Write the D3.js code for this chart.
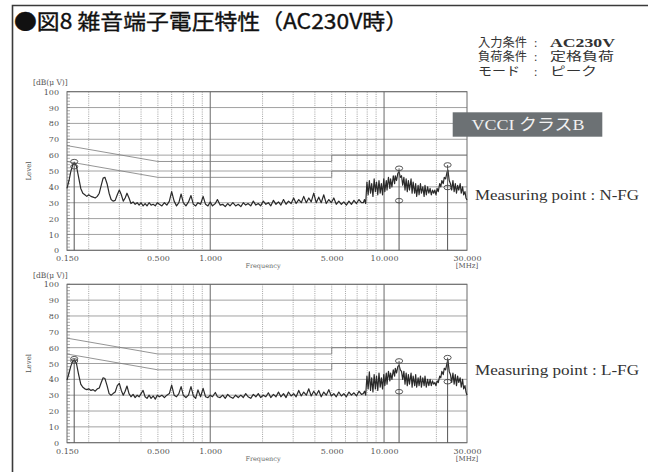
<!DOCTYPE html>
<html><head><meta charset="utf-8">
<script src="https://cdn.jsdelivr.net/npm/d3@7"></script>
<style>body{margin:0;background:#fff}svg{display:block}</style>
</head><body>
<svg id="c" width="648" height="472"></svg>
<script>
// Sweep frequencies [MHz], shared by both measuring points
const freqMHz = [
  0.150,0.154,0.158,0.162,0.166,0.170,0.175,0.180,0.185,0.190,0.195,0.200,0.206,0.212,0.218,0.224,0.230,0.236,0.242,0.248,
  0.255,0.262,0.269,0.276,0.284,0.292,0.300,0.308,0.316,0.324,0.332,0.341,0.350,0.360,0.370,0.380,0.390,0.400,0.411,0.422,
  0.433,0.445,0.457,0.470,0.483,0.496,
  0.510,0.527,0.545,0.563,0.582,0.600,0.620,0.640,0.660,0.680,0.700,0.725,0.750,0.775,0.800,0.825,0.850,0.880,0.910,0.940,
  0.970,1.00,1.03,1.07,1.10,1.14,1.18,1.22,1.26,1.30,1.35,1.40,1.45,1.50,1.55,1.60,1.65,1.71,1.77,1.83,
  1.89,1.95,2.02,2.09,2.16,2.23,2.31,2.39,2.47,2.55,2.64,2.73,2.82,2.92,3.02,3.12,3.23,3.34,3.45,3.57,
  3.69,3.81,3.94,4.07,4.21,4.35,4.50,4.65,4.81,4.97,5.14,5.31,5.49,5.68,5.87,6.07,6.28,6.49,6.71,6.94,
  7.17,7.41,
  7.60,7.72,7.84,7.97,8.10,8.23,8.36,8.49,8.63,8.77,8.91,9.05,9.20,9.35,9.50,9.65,9.80,9.96,10.1,10.3,
  10.4,10.6,10.8,10.9,11.1,11.3,11.5,11.6,11.8,12.0,12.2,12.4,12.6,12.8,13.0,13.2,13.4,13.6,13.8,14.0,
  14.3,14.5,14.7,15.0,15.2,15.4,15.7,15.9,16.2,16.4,16.7,17.0,17.2,17.5,17.8,18.1,18.4,18.7,19.0,19.3,
  19.6,19.9,20.2,20.5,20.9,21.2,21.5,21.9,22.2,22.6,23.0,23.3,23.7,24.1,24.5,24.9,25.3,25.7,26.1,26.5,
  26.9,27.4,27.8,28.3,28.7,29.2,29.6,30.0
];
// Peak-detector level [dBμV], measuring point N-FG
const levelNFG = [
  39,44,50,54,55,53,46,39,36,35,34,35,34,33.5,33,34,36,41,45.5,46,
  42,36,32,31,31.5,35,38,35,31,33,36,33,29.5,30.5,29,30,28.5,30,28,29.5,
  28,30,28.5,29,28,30,
  29,28,30,28.5,31,37,31,28,30,35.5,30,28,30.5,34.5,29,28,30,29,34,29,
  28,30.5,28,29.5,32,28.5,29,27.5,29.5,28,30,28,29,27.5,30,28.5,29.5,28,31,28.5,
  29.5,28,31,29,30,28,31.5,29,30.5,28.5,32,29,31,29.5,33,29.5,32,30,34,30,
  33,30.5,36,30,33.5,30,35,29.5,32,30,33,29,31,29,30.5,28.5,31,29,31.5,29.5,
  32,30,
  30,32,29.5,43,35,44,36,42,34,45,37,43,35,44,36,42,35,45,37,44,
  38,46,39,45,40,47,42,47,44,48.5,49.6,46,47,41,46,38,45,37,44,38,
  45,36,43,36,42,34,41,35,42,36,40,34,41,35,40,36,39,35,38,36,
  38,35,39,37,42,40,44,42,46,45,49,50.6,44,42,38,44,37,42,36,41,
  38,42,36,40,35,37,33,31.7
];
// Peak-detector level [dBμV], measuring point L-FG
const levelLFG = [
  39.5,44,48.5,51.5,52.2,50,43,37,35,34,33.5,34,33,33.5,32.5,34,34.5,38,41,40.5,
  36,31,30,31,32,36,37.5,33,30,32.5,35.8,31,29,30.5,28.5,30,29,31,33,29,
  28,30,28,29.5,27.5,30,
  29,30,28.5,30,31,36.4,30,29,31,35.4,30,28.5,30,35.4,29.5,28,33.3,29,34.3,29,
  28.5,30,29,31.7,29,28.5,30,28,30.5,29,28,30,28.5,30,28.5,31,29,28,30.5,29,
  31,28.5,30,29,31.5,28.5,30.5,29,32,29,31,28.5,32,29.5,31,29,33,29.5,32,30,
  34,29.5,32.5,30,33,29,32,30,33.5,29.5,31,29,32,29.5,31,29,32,30,31.5,29.5,
  32.5,30.5,
  31,32.5,30,42,34,44.8,33,41,32,43,34,42,33,44,35,41,34,43,36,44,
  37,45,39,44,40,46,42,47,44,48,49,46,45,40,45,37,44,36,43,37,
  44,35,42,36,43,35,41,36,42,35,41,36,42,35,40,36,40,36,39,37,
  38,36,39,38,42,41,45,43,47,46,50,52.2,45,43,38,44,37,43,36,42,
  38,41,35,40,34,36,32,30
];
// Marker readings (quasi-peak / average) [MHz, dBμV]
const markerFreq = [0.165, 12.2, 23.2];
const markerNFGQp = [55.9, 51.7, 53.8];
const markerNFGAv = [52.7, 31.3, 39.6];
const markerLFGQp = [53.0, 51.6, 53.7];
const markerLFGAv = [51.6, 32.2, 38.5];
// VCCI class B limit lines
const limitFreq = [0.15, 0.5, 5, 5, 30];
const limitQp = [66, 56, 56, 60, 60];
const limitAv = [56, 46, 46, 50, 50];
// Axis ticks
const xTickValues = [0.15, 0.5, 1, 5, 10, 30];
const xTickLabels = ["0.150", "0.500", "1.000", "5.000", "10.000", "30.000"];
const yTickValues = [0, 10, 20, 30, 40, 50, 60, 70, 80, 90, 100];
const gridMajorFreq = [1, 10];
const gridMinorFreq = [0.2,0.3,0.4,0.5,0.6,0.7,0.8,0.9,2,3,4,5,6,7,8,9,20];
// Header texts
const conditionLabels = ["入力条件", "負荷条件", "モード"];
const conditionValues = ["AC230V", "定格負荷", "ピーク"];

const svg = d3.select("#c");
const serif = "'DejaVu Serif', serif";
const cjk = "'Noto Sans CJK JP', sans-serif";
const mixed = "'Liberation Serif', 'Noto Sans CJK JP', serif";

// outer frame
svg.append("path").attr("d", "M12.5,472 V5.5 H648")
  .attr("fill", "none").attr("stroke", "#3a3a3a").attr("stroke-width", 1.6);

// title
svg.append("text").attr("x", 14).attr("y", 29)
  .attr("font-family", cjk).attr("font-size", 21).attr("font-weight", 400)
  .attr("textLength", 394).attr("lengthAdjust", "spacingAndGlyphs")
  .attr("fill", "#111").attr("stroke", "#111").attr("stroke-width", 0.35)
  .text("●図8 雑音端子電圧特性（AC230V時）");

// measurement conditions: one text per row
const condY = [47, 60.8, 75.5];
const labelLen = [49, 49, 42];
const valueLen = [65, 64, 47];
conditionLabels.forEach((t, i) => {
  const row = svg.append("text").attr("y", condY[i])
    .attr("font-family", mixed).attr("font-size", 12).attr("fill", "#333");
  row.append("tspan").attr("x", 478)
    .attr("textLength", labelLen[i]).attr("lengthAdjust", "spacingAndGlyphs").text(t);
  row.append("tspan").attr("x", 534).text(":");
  const v = row.append("tspan").attr("x", 550)
    .attr("textLength", valueLen[i]).attr("lengthAdjust", "spacingAndGlyphs").text(conditionValues[i]);
  if (i === 0) v.attr("font-weight", 700);
});

const x = d3.scaleLog().domain([0.15, 30]).range([67, 467]);

const panels = [
  { top: 91.7, bottom: 250.3, levels: levelNFG, qp: markerNFGQp, av: markerNFGAv,
    label: "Measuring point : N-FG", labelY: 200 },
  { top: 284.3, bottom: 442.7, levels: levelLFG, qp: markerLFGQp, av: markerLFGAv,
    label: "Measuring point : L-FG", labelY: 375 }
];

panels.forEach(p => {
  const y = d3.scaleLinear().domain([0, 100]).range([p.bottom, p.top]);
  const g = svg.append("g");
  const x0 = x.range()[0], x1 = x.range()[1];

  // horizontal grid
  g.selectAll(".hg").data(yTickValues).join("line")
    .attr("x1", x0).attr("x2", x1).attr("y1", d => y(d)).attr("y2", d => y(d))
    .attr("stroke", "#8a8a8a").attr("stroke-width", 0.8);
  // dotted minor verticals
  g.selectAll(".vm").data(gridMinorFreq).join("line")
    .attr("x1", d => x(d)).attr("x2", d => x(d)).attr("y1", p.top).attr("y2", p.bottom)
    .attr("stroke", "#8a8a8a").attr("stroke-width", 0.8).attr("stroke-dasharray", "1,1.2");
  // solid decade verticals
  g.selectAll(".vM").data(gridMajorFreq).join("line")
    .attr("x1", d => x(d)).attr("x2", d => x(d)).attr("y1", p.top).attr("y2", p.bottom)
    .attr("stroke", "#6a6a6a").attr("stroke-width", 1);
  // left minor tick ruler (2 dB)
  g.selectAll(".rt").data(d3.range(0, 101, 2)).join("line")
    .attr("x1", x0).attr("x2", x0 + 3).attr("y1", d => y(d)).attr("y2", d => y(d))
    .attr("stroke", "#777").attr("stroke-width", 0.6);

  // limit lines
  const lim = d3.line().x(d => x(d[0])).y(d => y(d[1]));
  [limitQp, limitAv].forEach(L => {
    g.append("path").attr("d", lim(limitFreq.map((f, i) => [f, L[i]])))
      .attr("fill", "none").attr("stroke", "#7a7a7a").attr("stroke-width", 0.8);
  });

  // plot frame
  g.append("rect").attr("x", x0).attr("y", p.top).attr("width", x1 - x0).attr("height", p.bottom - p.top)
    .attr("fill", "none").attr("stroke", "#6a6a6a").attr("stroke-width", 1);

  // measured trace
  const tr = d3.line().x(d => x(d[0])).y(d => y(d[1]));
  g.append("path").attr("d", tr(freqMHz.map((f, i) => [f, p.levels[i]])))
    .attr("fill", "none").attr("stroke", "#2a2a2a").attr("stroke-width", 1.2)
    .attr("stroke-linejoin", "round");

  // markers
  markerFreq.forEach((f, i) => {
    g.append("line").attr("x1", x(f)).attr("x2", x(f)).attr("y1", y(p.qp[i])).attr("y2", p.bottom)
      .attr("stroke", "#555").attr("stroke-width", 1);
    [p.qp[i], p.av[i]].forEach(v => {
      g.append("ellipse").attr("cx", x(f)).attr("cy", y(v)).attr("rx", 3.6).attr("ry", 2.3)
        .attr("fill", "none").attr("stroke", "#444").attr("stroke-width", 0.9);
    });
  });

  // y axis labels
  const ya = g.append("g").attr("transform", `translate(${x0 - 8},0)`)
    .call(d3.axisLeft(y).tickValues(yTickValues).tickSize(0).tickPadding(0).tickFormat(d3.format("d")));
  ya.select(".domain").remove();
  ya.selectAll("text").attr("font-family", serif).attr("font-size", 8).attr("fill", "#555");

  // x axis labels
  const xa = g.append("g").attr("transform", `translate(0,${p.bottom + 5.5})`)
    .call(d3.axisBottom(x).tickValues(xTickValues).tickSize(0).tickPadding(0)
      .tickFormat((d, i) => xTickLabels[i]));
  xa.select(".domain").remove();
  xa.selectAll("text").attr("font-family", serif).attr("font-size", 8).attr("fill", "#555");

  g.append("text").attr("x", 33).attr("y", p.top - 6.5)
    .attr("font-family", serif).attr("font-size", 7.5).attr("fill", "#555").text("[dB(μ V)]");
  g.append("text").attr("x", 467).attr("y", p.bottom + 18).attr("text-anchor", "middle")
    .attr("font-family", serif).attr("font-size", 7).attr("fill", "#555").text("[MHz]");
  g.append("text").attr("x", 263).attr("y", p.bottom + 18).attr("text-anchor", "middle")
    .attr("font-family", serif).attr("font-size", 6.5).attr("fill", "#666").text("Frequency");
  g.append("text")
    .attr("transform", `translate(31,${(p.top + p.bottom) / 2}) rotate(-90)`)
    .attr("text-anchor", "middle")
    .attr("font-family", serif).attr("font-size", 7).attr("fill", "#555").text("Level");

  svg.append("text").attr("x", 475).attr("y", p.labelY)
    .attr("font-family", "'Liberation Serif', serif").attr("font-size", 14)
    .attr("textLength", 164).attr("lengthAdjust", "spacingAndGlyphs")
    .attr("fill", "#333").text(p.label);
});

// VCCI class badge
svg.append("rect").attr("x", 452.7).attr("y", 112.3).attr("width", 149.6).attr("height", 24.4)
  .attr("fill", "#6c7174");
svg.append("text").attr("x", 471.5).attr("y", 130)
  .attr("font-family", mixed).attr("font-size", 15.5)
  .attr("textLength", 113).attr("lengthAdjust", "spacingAndGlyphs")
  .attr("fill", "#f2f2f2").text("VCCI クラスB");
</script>
</body></html>
